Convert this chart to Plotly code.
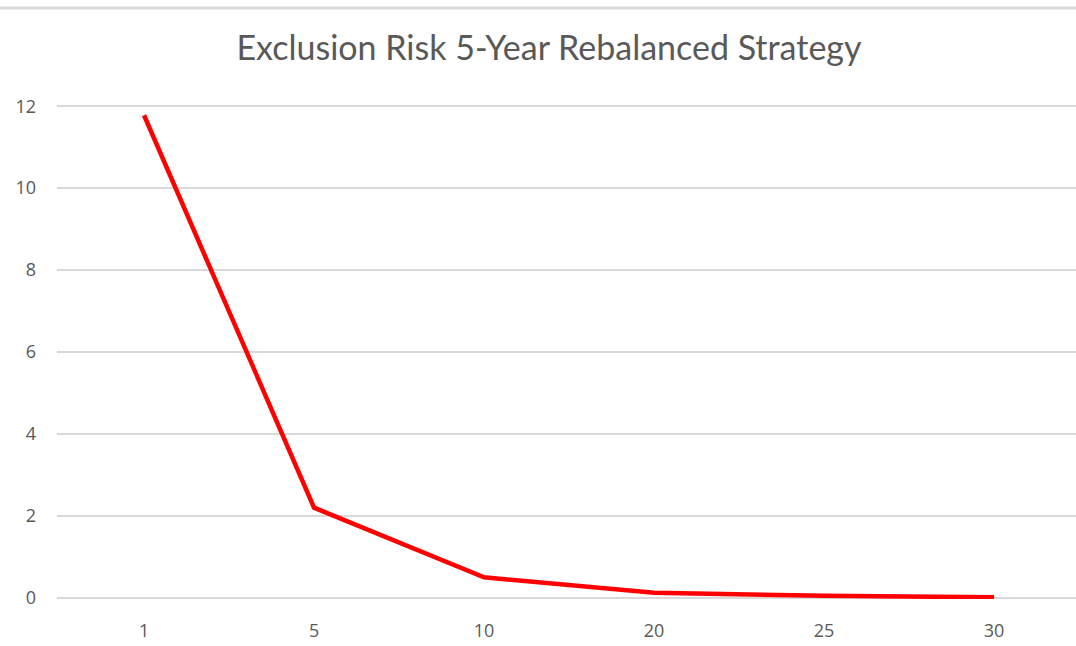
import plotly.graph_objects as go

# Holding period (years) and exclusion risk
years = ["1", "5", "10", "20", "25", "30"]
risk = [11.78, 2.2, 0.5, 0.12, 0.05, 0.01]
y_ticks = [0, 2, 4, 6, 8, 10, 12]

W, H = 1076, 646
ML, MR, MT, MB = 57, 0, 105, 47

fig = go.Figure()
fig.add_trace(go.Scatter(
    x=years, y=risk, mode="lines",
    line=dict(color="#ff0000", width=4.5),
    cliponaxis=False, hoverinfo="skip",
))

grey = "#595959"
fig.update_layout(
    width=W, height=H,
    margin=dict(l=ML, r=MR, t=MT, b=MB),
    paper_bgcolor="white", plot_bgcolor="white",
    showlegend=False,
    title=dict(
        text="Exclusion Risk 5-Year Rebalanced Strategy",
        x=(237 + 861) / 2 / W, xanchor="center", xref="container",
        y=1 - 48 / H, yanchor="middle",
        font=dict(family="Lato", size=34, color=grey),
    ),
    xaxis=dict(
        type="category", range=[-0.512, 5.482],
        showgrid=False, zeroline=False, showline=False,
        ticks="", tickfont=dict(family="Open Sans", size=18, color=grey),
        ticklabelstandoff=19,
    ),
    yaxis=dict(
        range=[-0.03, 12.03], tickvals=y_ticks, showgrid=True,
        gridcolor="#d9d9d9", gridwidth=2, zeroline=False, showline=False,
        ticks="", tickfont=dict(family="Open Sans", size=18, color=grey),
        ticklabelstandoff=20,
    ),
    shapes=[dict(
        type="line", xref="paper", yref="paper",
        x0=-ML / (W - ML - MR), x1=1,
        y0=1 + (MT - 8) / (H - MT - MB), y1=1 + (MT - 8) / (H - MT - MB),
        line=dict(color="#dcdcdc", width=3),
    )],
)

fig.write_html("out.html")
